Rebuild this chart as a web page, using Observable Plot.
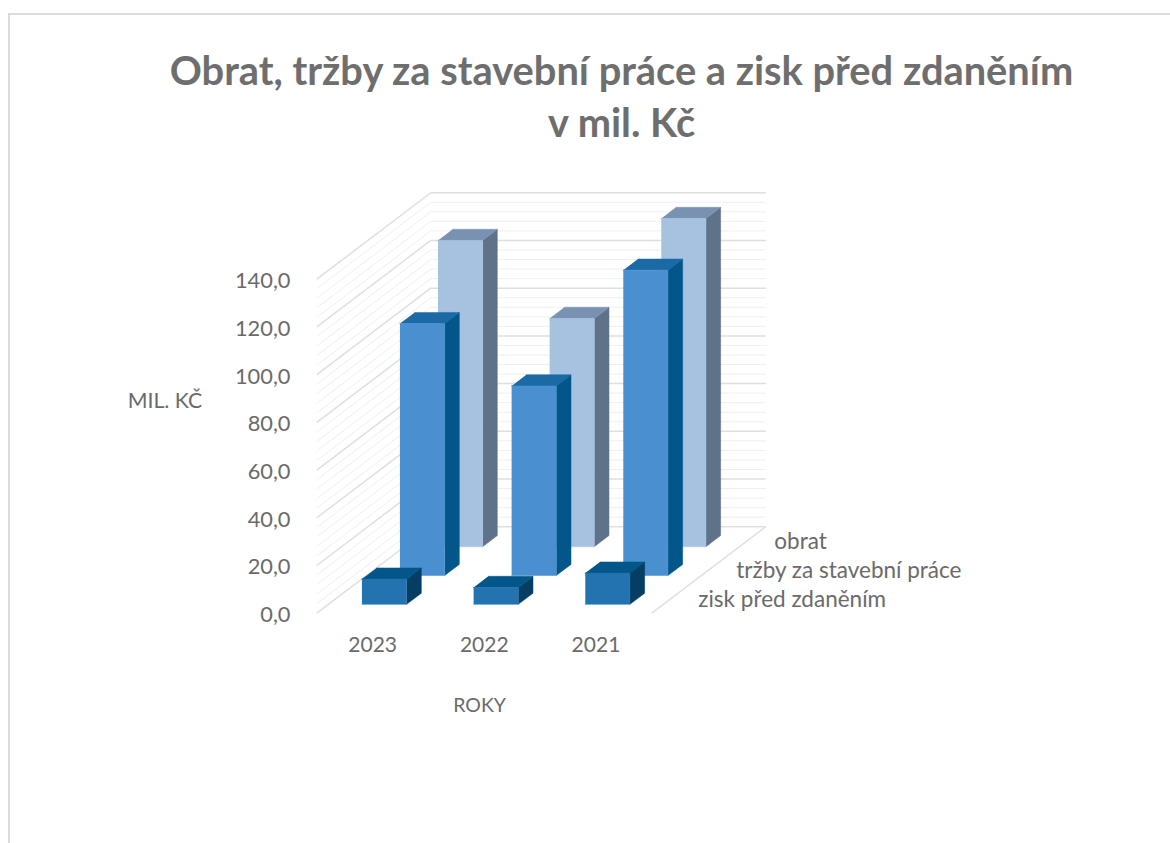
<!DOCTYPE html>
<html lang="cs">
<head>
<meta charset="utf-8">
<script src="https://cdn.jsdelivr.net/npm/d3@7"></script>
<script src="https://cdn.jsdelivr.net/npm/@observablehq/plot@0.6"></script>
<style>
html,body{margin:0;padding:0;background:#fff;overflow:hidden;width:1170px;height:843px}
#frame{position:absolute;left:8px;top:13px;right:0;bottom:0;border-top:2px solid #dcdcdc;border-left:2px solid #dcdcdc;pointer-events:none}
#title{position:relative;height:170px;box-sizing:border-box;padding:43.6px 0 0 73px;text-align:center;font:bold 39.8px/52px Lato,sans-serif;color:#6e6e6e}
#chart svg{display:block;font-family:Lato,sans-serif}
</style>
</head>
<body>
<div id="frame"></div>
<div id="title">Obrat, tržby za stavební práce a zisk před zdaněním<br>v mil. Kč</div>
<div id="chart"></div>
<script>
const years = ["2023", "2022", "2021"];
const seriesNames = ["zisk před zdaněním", "tržby za stavební práce", "obrat"];
const zisk = [10.6, 7.1, 13.1];
const trzby = [105.6, 79.5, 128];
const obrat = [128.4, 95.7, 137.6];
const seriesValues = [zisk, trzby, obrat];
const valueTicks = [0, 20, 40, 60, 80, 100, 120, 140];
const minorTicks = d3.range(0, 141, 4);
const faceColors = [
  {front: "#2373b0", top: "#03568a", side: "#053d63"},
  {front: "#4a90d0", top: "#1b6aa5", side: "#03568a"},
  {front: "#a6c2e0", top: "#7a92b2", side: "#5f7289"}
];

// oblique projection: one depth unit moves this much along the category and value axes
const DX = 0.3403, DY = 12.08, DEPTH = 3;
const px = (c, d) => c + d * DX;
const py = (d, v) => v + d * DY;

const barW = 0.4, barD = 0.387;
function polygons(s) {
  const front = [], top = [], side = [];
  seriesValues[s].forEach((v, c) => {
    const x0 = c + (1 - barW) / 2, x1 = x0 + barW;
    const d0 = s + (1 - barD) / 2, d1 = d0 + barD;
    const push = (arr, pts) => pts.forEach(([a, d, h]) => arr.push({id: c, x: px(a, d), y: py(d, h)}));
    push(front, [[x0, d0, 0], [x1, d0, 0], [x1, d0, v], [x0, d0, v]]);
    push(top, [[x0, d0, v], [x1, d0, v], [x1, d1, v], [x0, d1, v]]);
    push(side, [[x1, d0, 0], [x1, d1, 0], [x1, d1, v], [x1, d0, v]]);
  });
  return {front, top, side};
}

const wall = minorTicks.filter(t => t % 20 !== 0);
const gridLinks = (ticks, stroke, strokeWidth) => [
  Plot.link(ticks, {x1: px(0, 0), x2: px(0, DEPTH), y1: t => py(0, t), y2: t => py(DEPTH, t), stroke, strokeWidth}),
  Plot.link(ticks, {x1: px(0, DEPTH), x2: px(3, DEPTH), y1: t => py(DEPTH, t), y2: t => py(DEPTH, t), stroke, strokeWidth})
];

const barMarks = [];
for (let s = 2; s >= 0; s--) {
  const p = polygons(s), col = faceColors[s];
  for (const face of ["side", "top", "front"]) {
    barMarks.push(Plot.line(p[face], {x: "x", y: "y", z: "id", fill: col[face], stroke: col[face], strokeWidth: 0.5, curve: "linear"}));
  }
}

const chart = Plot.plot({
  width: 1170,
  height: 673,
  marginLeft: 316.3,
  marginRight: 518.7,
  marginTop: 108.7,
  marginBottom: 230.3,
  style: {background: "transparent", fontSize: "21px", fontFamily: "Lato, sans-serif", overflow: "visible"},
  x: {domain: [0, 3]},
  y: {domain: [0, 140]},
  marks: [
    ...gridLinks(wall, "#efefef", 1),
    ...gridLinks(valueTicks, "#dfdfdf", 1.5),
    Plot.link([0], {x1: px(3, 0), x2: px(3, DEPTH), y1: py(0, 0), y2: py(DEPTH, 0), stroke: "#dfdfdf", strokeWidth: 1.5}),
    ...barMarks,
    Plot.axisY({ticks: valueTicks, tickSize: 0, tickPadding: 26.3, dy: 2, tickFormat: d => d3.format(".1f")(d).replace(".", ","), label: null, color: "#6a6a6a", fontSize: 21.8}),
    Plot.axisX({ticks: [0.5, 1.5, 2.5], tickSize: 0, tickPadding: 24, tickFormat: d => years[Math.floor(d)], label: null, color: "#6a6a6a", fontSize: 21}),
    Plot.text(seriesNames, {x: (d, i) => px(3, i + 0.5), y: (d, i) => py(i + 0.5, 0), text: d => d, dx: 27.5, dy: 1, textAnchor: "start", fill: "#6a6a6a", fontSize: 22.5}),
    Plot.text(["MIL. KČ"], {x: -1.36, y: 89, text: d => d, fill: "#6a6a6a", fontSize: 21.3}),
    Plot.text(["ROKY"], {x: 1.458, y: -38.8, text: d => d, fill: "#6a6a6a", fontSize: 19.5})
  ]
});
document.getElementById("chart").appendChild(chart);
</script>
</body>
</html>
